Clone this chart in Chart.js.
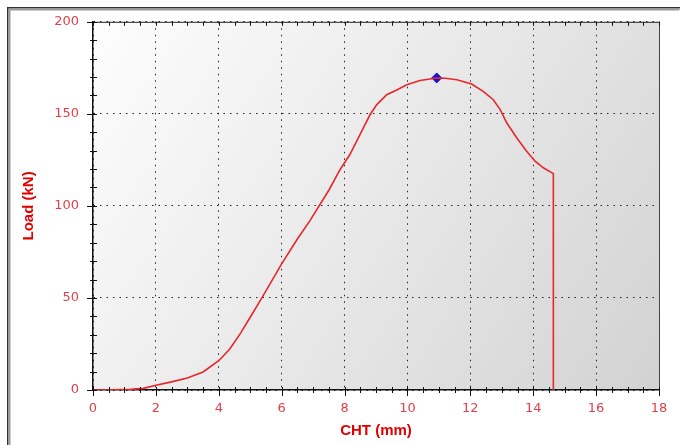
<!DOCTYPE html>
<html>
<head>
<meta charset="utf-8">
<script src="https://cdn.jsdelivr.net/npm/chart.js@4"></script>
<style>
  html, body { margin: 0; padding: 0; background: #fff; }
  #wrap { width: 680px; height: 445px; }
</style>
</head>
<body>
<div id="wrap"><canvas id="graph" width="680" height="445"></canvas></div>
<script>
// Curve: CHT (mm) vs Load (kN)
const cht  = [0, 0.6, 1.2, 1.6, 2.0, 2.5, 3.0, 3.5, 4.0, 4.35, 4.7, 5.0, 5.37, 6.0, 6.5, 6.9, 7.5, 7.86, 8.17, 8.49, 8.65, 8.81, 9.02, 9.34, 9.66, 9.98, 10.4, 10.93, 11.2, 11.57, 12.04, 12.41, 12.73, 12.95, 13.16, 13.48, 13.79, 14.06, 14.32, 14.64, 14.64];
const load = [0, 0.1, 0.4, 0.9, 2.6, 4.4, 6.5, 9.8, 15.9, 22.3, 31, 39.5, 50, 68.5, 82, 92, 108.5, 119.8, 127.9, 138.7, 144.2, 149.5, 154.9, 160.4, 163, 165.8, 168.1, 169.5, 169.3, 168.5, 166.2, 162.2, 157.7, 152.3, 145, 136.9, 129.7, 124.3, 120.7, 117.5, 0];

// Peak marker
const peakCht = [10.93];
const peakLoad = [169.5];

// Axis ranges
const xTicks = { min: 0, max: 18, step: 2, minor: 0.5 };
const yTicks = { min: 0, max: 200, step: 50, minor: 10 };

const labelRed = '#e0404c';
const titleRed = '#e00000';

const canvas = document.getElementById('graph');
const ctx = canvas.getContext('2d');

// Background gradient, frame and tick marks
const decor = {
    id: 'decor',
    beforeDraw(chart) {
        const c = chart.ctx;
        const a = chart.chartArea;
        c.save();
        c.fillStyle = '#fff';
        c.fillRect(0, 0, chart.width, chart.height);
        const g = c.createLinearGradient(a.left, a.top, a.right, a.bottom);
        g.addColorStop(0, '#fdfdfd');
        g.addColorStop(0.5, '#e8e8e8');
        g.addColorStop(1, '#d2d2d2');
        c.fillStyle = g;
        c.fillRect(a.left, a.top, a.right - a.left, a.bottom - a.top);
        // outer frame
        c.fillStyle = '#333';
        c.fillRect(7, 7, 673, 1.5);
        c.fillRect(7, 7, 1.5, 438);
        c.fillStyle = '#9a9a9a';
        c.fillRect(8.5, 9, 671, 1.5);
        c.fillRect(8.5, 9, 2, 436);
        c.restore();
    },
    afterDatasetsDraw(chart) {
        const c = chart.ctx;
        const a = chart.chartArea;
        const xs = chart.scales.x;
        const ys = chart.scales.y;
        c.save();
        // right and top border
        c.strokeStyle = '#444';
        c.lineWidth = 1;
        c.beginPath();
        c.moveTo(a.right + 0.5, a.top);
        c.lineTo(a.right + 0.5, a.bottom);
        c.stroke();
        c.strokeStyle = '#222';
        c.beginPath();
        c.moveTo(a.left, a.top + 0.5);
        c.lineTo(a.right, a.top + 0.5);
        c.stroke();
        // ticks
        c.strokeStyle = '#111';
        c.beginPath();
        for (let v = xTicks.min; v <= xTicks.max + 1e-9; v += xTicks.minor) {
            const px = Math.round(xs.getPixelForValue(v)) + 0.5;
            const major = Math.abs(v / xTicks.step - Math.round(v / xTicks.step)) < 1e-6;
            c.moveTo(px, a.bottom - 3);
            c.lineTo(px, a.bottom + (major ? 6 : 3));
            c.moveTo(px, a.top);
            c.lineTo(px, a.top + 4);
        }
        for (let v = yTicks.min; v <= yTicks.max + 1e-9; v += yTicks.minor) {
            const py = Math.round(ys.getPixelForValue(v)) + 0.5;
            const major = Math.abs(v / yTicks.step - Math.round(v / yTicks.step)) < 1e-6;
            c.moveTo(a.left - (major ? 6 : 3), py);
            c.lineTo(a.left + 4, py);
        }
        c.stroke();
        c.restore();
    }
};

const chart = new Chart(ctx, {
    type: 'scatter',
    data: {
        datasets: [
            {
                label: 'Load',
                data: cht.map((x, i) => ({ x, y: load[i] })),
                showLine: true,
                borderColor: '#e8262b',
                borderWidth: 1.6,
                pointRadius: 0,
                tension: 0,
            },
            {
                label: 'Peak',
                data: peakCht.map((x, i) => ({ x, y: peakLoad[i] })),
                pointStyle: 'rectRot',
                pointRadius: 5,
                backgroundColor: '#1414c8',
                borderColor: '#1414c8',
            },
        ],
    },
    options: {
        responsive: false,
        animation: false,
        layout: { padding: { left: 20, top: 20, right: 21, bottom: 5 } },
        plugins: { legend: { display: false }, tooltip: { enabled: false } },
        scales: {
            x: {
                type: 'linear',
                min: xTicks.min,
                max: xTicks.max,
                ticks: {
                    stepSize: xTicks.step,
                    padding: 11,
                    color: labelRed,
                    font: { family: 'DejaVu Sans', size: 13 },
                },
                grid: { color: '#222', lineWidth: 1, drawTicks: false },
                border: { display: true, color: '#111', width: 1.5, dash: [1.5, 5] },
                title: {
                    display: true,
                    text: 'CHT (mm)',
                    color: titleRed,
                    font: { family: 'Liberation Sans', size: 15, weight: 'bold' },
                    padding: { top: 4, bottom: 0 },
                },
                afterFit(scale) { scale.height = 50; },
            },
            y: {
                type: 'linear',
                min: yTicks.min,
                max: yTicks.max,
                ticks: {
                    stepSize: yTicks.step,
                    padding: 14,
                    color: labelRed,
                    font: { family: 'DejaVu Sans', size: 13 },
                },
                grid: { color: '#222', lineWidth: 1, drawTicks: false },
                border: { display: true, color: '#111', width: 1.5, dash: [1.5, 5] },
                title: {
                    display: true,
                    text: 'Load (kN)',
                    color: titleRed,
                    font: { family: 'Liberation Sans', size: 15, weight: 'bold' },
                    padding: { top: 0, bottom: 0 },
                },
                afterFit(scale) { scale.width = 73; },
            },
        },
    },
    plugins: [decor],
});
</script>
</body>
</html>
